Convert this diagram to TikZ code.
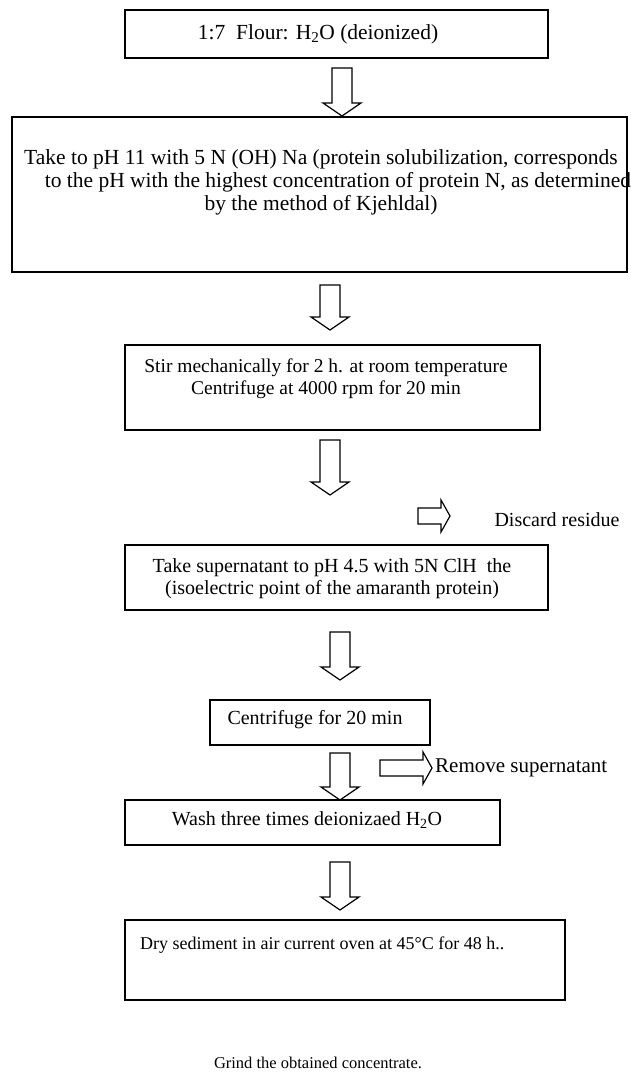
\documentclass[tikz,border=0pt]{standalone}
\usepackage{fontspec}
\setmainfont{Liberation Serif}
\newcommand\blkdown[3]{% x, ytop, ytip
  \draw[blk] ({#1-10},#2) -- ({#1+10},#2) -- ({#1+10},{#3-13}) -- ({#1+19},{#3-13}) -- (#1,#3) -- ({#1-19},{#3-13}) -- ({#1-10},{#3-13}) -- cycle;}
\newcommand\blkright[3]{% xleft, xtip, y
  \draw[blk] (#1,{#3-8}) -- ({#2-9},{#3-8}) -- ({#2-9},{#3-16}) -- (#2,#3) -- ({#2-9},{#3+16}) -- ({#2-9},{#3+8}) -- (#1,{#3+8}) -- cycle;}
\begin{document}
\begin{tikzpicture}[x=1pt,y=-1pt,
  box/.style={draw, line width=1.1pt, inner sep=0pt},
  txt/.style={inner sep=0pt, align=center, font=\fontsize{20}{24}\selectfont},
  big/.style={font=\fontsize{21.5}{23}\selectfont},
  blk/.style={draw, line width=1.2pt, fill=white, line join=miter}]
\useasboundingbox (0,0) rectangle (630,1083);
% boxes
\node[box, minimum width=423pt, minimum height=48pt] (b1) at (336.5,34) {};
\node[box, minimum width=615pt, minimum height=155pt] (b2) at (319.5,194.5) {};
\node[box, minimum width=415pt, minimum height=85pt] (b3) at (332.5,387.5) {};
\node[box, minimum width=423pt, minimum height=65pt] (b4) at (336.5,577.5) {};
\node[box, minimum width=220pt, minimum height=45pt] (b5) at (320,722.5) {};
\node[box, minimum width=375pt, minimum height=45pt] (b6) at (312.5,822.5) {};
\node[box, minimum width=440pt, minimum height=80pt] (b7) at (345,960) {};
% texts
\node[txt, big] (t1) at (318,34) {1:7\ \ Flour: H\textsubscript{2}O (deionized)};
\node[txt, big] (t2) at (321,182) {Take to pH 11 with 5 N (OH) Na (protein solubilization, corresponds\\
\hspace*{34pt}to the pH with the highest concentration of protein N, as determined\\
by the method of Kjehldal)};
\node[txt, font=\fontsize{19.5}{22}\selectfont] (t3) at (326,378.5) {Stir mechanically for 2 h. at room temperature\\Centrifuge at 4000 rpm for 20 min};
\node[txt, font=\fontsize{20}{22}\selectfont] (t4) at (332,579) {Take supernatant to pH 4.5 with 5N ClH\ \ the\\(isoelectric point of the amaranth protein)};
\node[txt] (t5) at (315,720) {Centrifuge for 20 min};
\node[txt] (t6) at (307,820) {Wash three times deionizaed H\textsubscript{2}O};
\node[txt, anchor=west, font=\fontsize{18}{22}\selectfont] (t7) at (140,945) {Dry sediment in air current oven at 45°C for 48 h..};
\node[txt, font=\fontsize{16.5}{20}\selectfont] (t8) at (318,1063) {Grind the obtained concentrate.};
\node[txt] (s1) at (557,520) {Discard residue};
\node[txt, anchor=west, font=\fontsize{21}{24}\selectfont] (s2) at (435,768) {Remove supernatant};
% block arrows
\blkdown{342}{68}{116}
\blkdown{330}{285}{330}
\blkdown{330}{440}{495}
\blkdown{340}{632}{680}
\blkdown{340}{753}{800}
\blkdown{340}{862}{910}
\blkright{418}{450}{516}
\blkright{380}{432}{768}
\end{tikzpicture}
\end{document}
